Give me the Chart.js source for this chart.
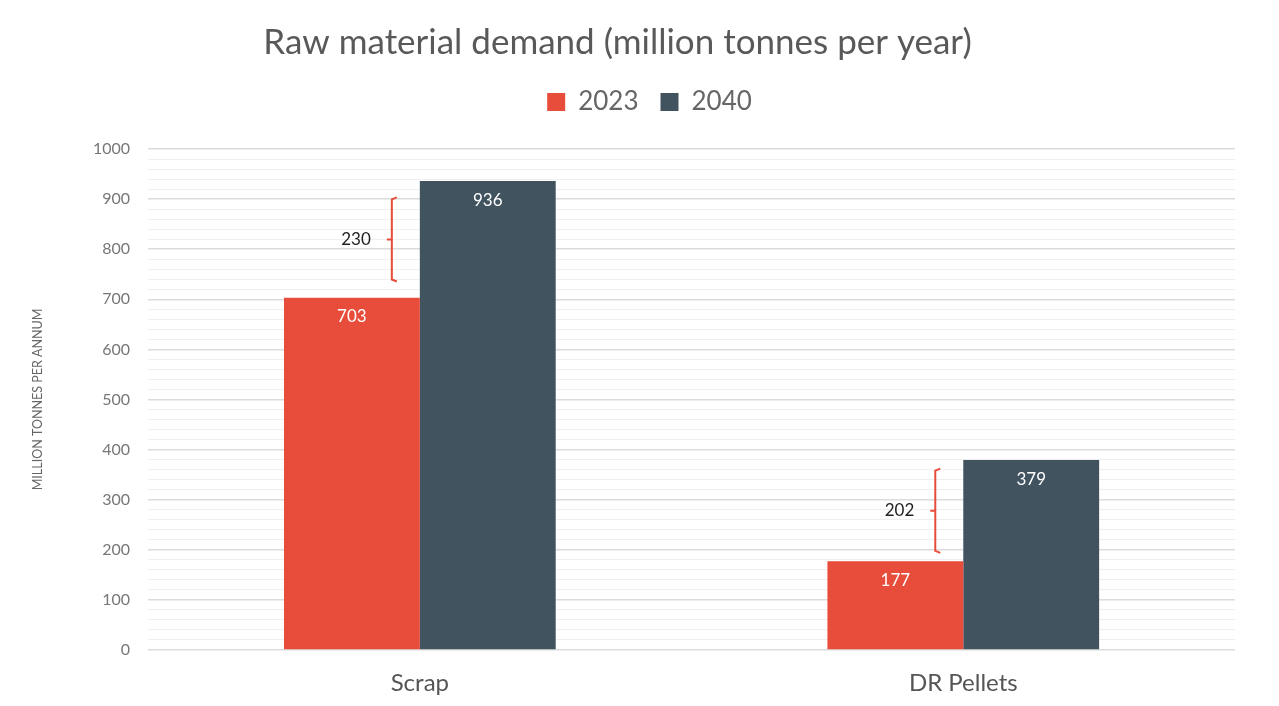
<!DOCTYPE html>
<html>
<head>
<meta charset="utf-8">
<script src="https://cdn.jsdelivr.net/npm/chart.js@4.4.0/dist/chart.umd.min.js"></script>
<style>
  html, body { margin: 0; padding: 0; background: #fff; }
  #wrap { width: 1279px; height: 706px; }
</style>
</head>
<body>
<div id="wrap"><canvas id="myChart" width="1279" height="706"></canvas></div>
<script>
// categories and series
const categories = ["Scrap", "DR Pellets"];
const values2023 = [703, 177];
const values2040 = [936, 379];
const gapLabels = ["230", "202"];

const FONT = "Lato, 'Open Sans', sans-serif";

// extra room under the legend, and nudge title / legend sideways
const legendSpace = {
  id: "legendSpace",
  beforeInit(chart) {
    const fit = chart.legend.fit;
    chart.legend.fit = function () {
      fit.bind(chart.legend)();
      this.height += 24;
    };
  },
  afterLayout(chart) {
    chart.legend.left += 17;
    chart.legend.right += 17;
    chart.titleBlock.left -= 15;
    chart.titleBlock.right -= 15;
  }
};

// value labels inside the top of each bar
const barLabels = {
  id: "barLabels",
  afterDatasetsDraw(chart) {
    const ctx = chart.ctx;
    ctx.save();
    ctx.fillStyle = "#ffffff";
    ctx.font = "17px " + FONT;
    ctx.textAlign = "center";
    ctx.textBaseline = "middle";
    chart.data.datasets.forEach((ds, i) => {
      chart.getDatasetMeta(i).data.forEach((bar, j) => {
        ctx.fillText(ds.data[j], bar.x, bar.y + 19);
      });
    });
    ctx.restore();
  }
};

// red brackets showing the increase
const brackets = {
  id: "brackets",
  afterDatasetsDraw(chart) {
    const ctx = chart.ctx;
    const y = chart.scales.y;
    const meta = chart.getDatasetMeta(0);
    ctx.save();
    meta.data.forEach((bar, j) => {
      const mid = (values2023[j] + values2040[j]) / 2;
      const yTop = y.getPixelForValue(mid + 84);
      const yBot = y.getPixelForValue(mid - 84);
      const yMid = y.getPixelForValue(mid);
      const bx = bar.x + bar.width / 2 - 28;
      ctx.strokeStyle = "#e84c3a";
      ctx.lineWidth = 2;
      ctx.beginPath();
      ctx.moveTo(bx + 5, yTop);
      ctx.lineTo(bx, yTop + 2);
      ctx.lineTo(bx, yBot - 2);
      ctx.lineTo(bx + 5, yBot);
      ctx.moveTo(bx, yMid);
      ctx.lineTo(bx - 5, yMid);
      ctx.stroke();
      ctx.fillStyle = "#222";
      ctx.font = "17px " + FONT;
      ctx.textAlign = "right";
      ctx.textBaseline = "middle";
      ctx.fillText(gapLabels[j], bx - 21, yMid);
    });
    ctx.restore();
  }
};

const ctx = document.getElementById("myChart").getContext("2d");
const myChart = new Chart(ctx, {
  type: "bar",
  data: {
    labels: categories,
    datasets: [
      {
        label: "2023",
        data: values2023,
        backgroundColor: "#e84c3a",
        categoryPercentage: 0.5,
        barPercentage: 1.0
      },
      {
        label: "2040",
        data: values2040,
        backgroundColor: "#41535f",
        categoryPercentage: 0.5,
        barPercentage: 1.0
      }
    ]
  },
  options: {
    responsive: false,
    animation: false,
    layout: { padding: { left: 30, right: 44, top: 12, bottom: 0 } },
    plugins: {
      title: {
        display: true,
        text: "Raw material demand (million tonnes per year)",
        color: "#595959",
        font: { family: FONT, size: 35, weight: "normal" },
        padding: { top: 10, bottom: 3 }
      },
      legend: {
        position: "top",
        labels: {
          color: "#666",
          font: { family: FONT, size: 26 },
          boxWidth: 18,
          boxHeight: 18,
          padding: 22
        }
      },
      tooltip: { enabled: false }
    },
    scales: {
      x: {
        grid: { display: false, drawTicks: false, tickLength: 0 },
        border: { display: false },
        ticks: { color: "#555", font: { family: FONT, size: 24 }, padding: 19 },
        afterFit: (scale) => { scale.height = 56; }
      },
      y: {
        min: 0,
        max: 1000,
        border: { display: false },
        title: {
          display: true,
          text: "MILLION TONNES PER ANNUM",
          color: "#666",
          font: { family: FONT, size: 12.5 },
          padding: { top: 0, bottom: 30 }
        },
        grid: {
          color: (c) => (c.tick.value % 100 === 0 ? "#dcdcdc" : "#efefef"),
          lineWidth: (c) => (c.tick.value % 100 === 0 ? 1.5 : 1),
          drawTicks: false
        },
        ticks: {
          stepSize: 20,
          autoSkip: false,
          color: "#777",
          padding: 18,
          font: { family: FONT, size: 16 },
          callback: (v) => (v % 100 === 0 ? v : "")
        }
      }
    }
  },
  plugins: [legendSpace, barLabels, brackets]
});
</script>
</body>
</html>
